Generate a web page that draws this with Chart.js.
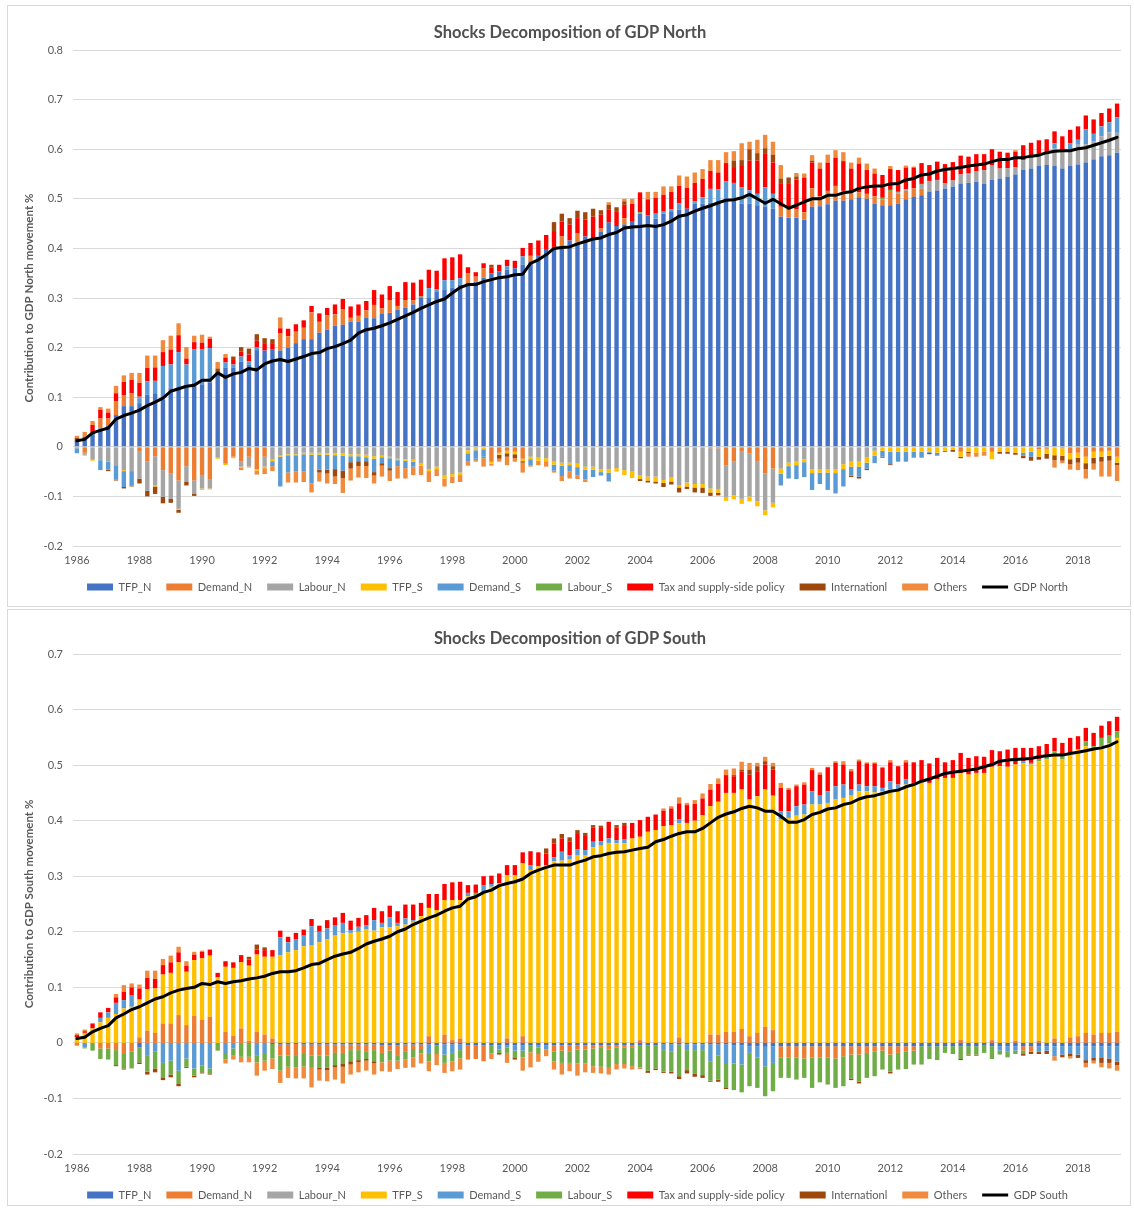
<!DOCTYPE html>
<html><head><meta charset="utf-8">
<script src="https://cdn.jsdelivr.net/npm/chart.js"></script>
<style>
html,body{margin:0;padding:0;background:#fff;overflow:hidden;width:1134px;height:1209px;}
.box{position:absolute;left:7px;width:1124px;border:1px solid #d9d9d9;box-sizing:border-box;}
#b1{top:5px;height:602px;}
#b2{top:609px;height:597px;}
.cw{position:absolute;left:8px;width:1122px;}
#w1{top:6px;height:600px;}
#w2{top:610px;height:604px;}
.ttl{position:absolute;left:0;width:1140px;text-align:center;font-family:Lato,"Open Sans",Arial,sans-serif;font-weight:bold;font-size:16.5px;line-height:20px;color:#505050;white-space:nowrap;}
#t1{top:22px;}
#t2{top:628px;}
</style></head><body>
<div class="box" id="b1"></div><div class="box" id="b2"></div>
<div class="cw" id="w1"><canvas id="c1"></canvas></div>
<div class="cw" id="w2"><canvas id="c2"></canvas></div>
<div class="ttl" id="t1">Shocks Decomposition of GDP North</div>
<div class="ttl" id="t2">Shocks Decomposition of GDP South</div>
<script>
// ---------- categories ----------
const firstYear = 1986, nQuarters = 134; // 1986Q1 .. 2019Q2
const quarters = [];
for (let k = 0; k < nQuarters; k++) quarters.push((firstYear + Math.floor(k / 4)) + 'Q' + (k % 4 + 1));
const yearTicks = ['1986','1988','1990','1992','1994','1996','1998','2000','2002','2004','2006','2008','2010','2012','2014','2016','2018'];

const seriesNames = ['TFP_N','Demand_N','Labour_N','TFP_S','Demand_S','Labour_S','Tax and supply-side policy','Internationl','Others'];

// ---------- GDP North ----------
const northTFP_N = [.010,.015,.026,.037,.043,.064,.082,.082,
 .088,.105,.108,.095,.118,.120,.125,.130,
 .126,.130,.146,.160,.160,.172,.166,.195,
 .194,.197,.194,.200,.209,.217,.217,.230,
 .236,.244,.246,.252,.252,.260,.259,.268,
 .270,.276,.280,.287,.300,.300,.313,.316,
 .321,.327,.330,.333,.341,.350,.354,.357,
 .360,.367,.374,.385,.397,.403,.404,.416,
 .412,.424,.420,.434,.452,.445,.448,.455,
 .470,.467,.460,.470,.475,.478,.480,.490,
 .490,.492,.495,.497,.500,.490,.490,.487,
 .484,.480,.464,.462,.462,.458,.484,.485,
 .489,.496,.496,.499,.503,.500,.490,.487,
 .487,.490,.499,.504,.507,.514,.516,.521,
 .525,.531,.532,.534,.531,.538,.541,.544,
 .549,.558,.561,.566,.568,.566,.561,.566,
 .569,.573,.579,.586,.588,.593];
const northDemand_N = [0,-.012,0,.020,.014,.028,.022,.026,
 -.010,-.029,-.019,-.047,-.053,-.068,-.039,-.068,
 -.057,-.065,0,-.034,-.020,-.030,-.020,-.045,
 -.020,0,.035,.023,.023,.023,.054,.022,
 .029,.023,.031,.008,.012,.015,.027,.011,
 .026,.008,.016,.008,0,0,0,0,
 0,0,.020,.010,.019,-.030,-.012,-.008,
 -.010,-.024,.011,0,0,0,.020,0,
 .019,0,0,.006,0,0,.013,0,
 0,0,0,0,0,0,0,0,
 0,-.003,-.003,-.037,-.030,-.010,-.013,-.030,
 -.054,-.044,.020,.018,.017,.015,.037,.020,
 .027,.030,.020,.015,.010,.010,.015,.012,
 .027,.020,.017,.017,.013,0,0,0,
 0,-.010,0,0,0,-.010,0,0,
 0,0,0,-.005,-.004,0,-.003,-.013,
 -.012,-.020,-.010,-.010,-.008,-.020];
const northLabour_N = [-.003,-.004,-.026,-.027,-.030,-.037,-.047,-.049,
 -.054,-.060,-.059,-.054,-.052,-.057,-.032,-.026,
 -.027,-.019,-.022,0,0,-.010,-.020,0,
 -.020,-.026,-.018,-.015,-.015,-.012,-.012,-.012,
 -.013,-.013,-.013,-.015,-.015,-.016,-.019,-.018,
 -.020,-.024,-.025,-.026,-.034,-.045,-.040,-.058,
 -.055,-.052,-.007,-.003,0,0,0,0,
 0,0,-.020,-.022,-.023,-.030,-.032,-.032,
 -.034,-.040,-.040,-.045,-.045,-.043,-.047,-.050,
 -.057,-.060,-.060,-.067,-.062,-.077,-.072,-.075,
 -.075,-.081,-.082,-.064,-.068,-.095,-.087,-.080,
 -.074,-.069,-.044,-.032,-.030,-.025,-.045,-.045,
 -.045,-.045,-.035,-.030,-.030,-.022,-.008,0,
 0,.004,.003,0,.010,.022,.022,.010,
 .012,.018,.017,.022,.027,.030,.020,.018,
 .015,.020,.025,.024,.024,.035,.035,.034,
 .040,.037,.037,.040,.046,.040];
const northTFP_S = [0,-.002,-.002,0,0,0,-.002,0,
 0,0,-.002,0,0,-.002,0,0,
 -.003,-.002,-.002,-.003,-.003,-.002,-.002,-.003,
 -.003,-.003,-.002,-.002,-.002,-.003,-.004,-.004,
 -.003,-.004,-.005,-.004,-.004,-.005,-.005,-.003,
 -.003,-.003,-.003,-.004,-.004,-.004,-.005,-.006,
 -.005,-.005,-.006,-.004,-.005,-.004,-.004,-.005,
 -.005,-.005,-.005,-.006,-.006,-.006,-.006,-.005,
 -.007,-.006,-.006,-.006,-.007,-.007,-.010,-.013,
 -.008,-.008,-.010,-.006,-.008,-.005,-.008,-.007,
 -.007,-.008,-.008,-.008,-.008,-.010,-.010,-.010,
 -.010,-.009,-.010,-.007,-.007,-.006,-.008,-.007,
 -.007,-.008,-.010,-.010,-.010,-.010,-.010,-.008,
 -.010,-.010,-.010,-.010,-.010,-.010,-.012,-.008,
 -.006,-.010,-.010,-.012,-.010,-.015,-.010,-.010,
 -.012,-.012,-.010,-.015,-.010,-.017,-.015,-.012,
 -.010,-.013,-.012,-.010,-.010,-.012];
const northDemand_S = [-.010,0,0,-.020,-.016,-.029,-.032,-.029,
 .010,.027,.025,.068,.048,.071,.041,.067,
 .070,.069,0,.010,.006,.010,.006,.005,
 0,-.010,-.060,-.035,-.033,-.034,-.058,-.030,
 -.030,-.028,-.030,-.012,-.010,-.008,-.027,-.012,
 -.020,-.012,-.015,-.010,0,.020,.004,.020,
 .015,.013,-.017,-.017,-.015,0,0,.007,
 0,.017,-.012,0,0,-.012,-.021,-.013,
 -.017,-.020,-.015,-.007,-.018,0,0,0,
 0,0,.010,.004,.004,.013,0,.005,
 .013,.028,.024,.038,.032,.033,.027,.023,
 .039,.030,-.024,-.025,-.028,-.030,-.034,-.023,
 -.035,-.041,-.035,-.018,-.020,-.012,-.015,-.012,
 -.025,-.020,-.020,-.012,-.012,-.002,-.006,0,
 0,0,.003,0,0,0,0,0,
 0,-.006,-.010,0,0,.011,0,.012,
 .010,.030,.015,.020,.020,.031];
const northLabour_S = [0,0,0,0,0,0,0,0,
 .003,0,0,0,0,0,0,0,
 0,0,0,0,0,0,0,0,
 0,0,0,0,0,0,0,0,
 0,0,0,0,0,0,0,0,
 0,0,0,0,.003,0,0,0,
 0,0,0,-.003,-.003,0,0,0,
 0,0,0,0,0,0,0,0,
 0,0,0,0,0,0,0,0,
 .003,0,0,0,0,0,0,0,
 0,0,0,0,0,0,0,0,
 0,0,0,.003,0,0,0,0,
 0,0,0,0,0,0,0,.003,
 .004,0,0,0,0,0,0,0,
 0,0,0,0,0,0,0,0,
 0,0,0,0,0,0,0,0,
 0,0,0,0,0,0];
const northTax = [0,0,.018,.018,.012,.016,.027,.027,
 .028,.027,.027,.028,.030,.034,.012,.014,
 .014,.019,0,.010,.009,.010,.014,.014,
 .015,.012,.010,.015,.015,.015,.013,.017,
 .015,.020,.021,.023,.023,.019,.030,.028,
 .028,.028,.036,.036,.034,.037,.038,.044,
 .046,.048,.012,.009,.010,.011,.013,.013,
 .015,.017,.026,.031,.030,.032,.030,.032,
 .030,.034,.044,.028,.027,.030,.027,.035,
 .040,.032,.032,.034,.035,.035,.042,.037,
 .037,.036,.034,.037,.032,.045,.060,.067,
 .069,.063,.046,.047,.060,.070,.052,.056,
 .057,.057,.060,.047,.058,.048,.046,.046,
 .042,.044,.044,.042,.042,.032,.037,.039,
 .037,.038,.033,.034,.032,.032,.034,.031,
 .031,.030,.027,.028,.028,.024,.030,.027,
 .027,.028,.029,.027,.028,.028];
const northIntl = [.008,.005,0,0,-.003,-.002,-.003,-.002,
 -.010,-.011,-.015,-.013,-.008,-.006,-.007,-.005,
 0,0,.012,0,.007,.009,.012,.013,
 .010,.008,0,0,0,0,0,-.006,
 -.008,-.015,-.015,-.013,-.010,-.010,-.007,-.005,
 -.005,0,0,0,0,0,0,0,
 0,0,0,0,0,.006,-.008,-.007,
 -.008,-.003,0,0,0,.018,.016,.013,
 .015,.015,.016,.009,.009,.008,.007,0,
 -.004,-.004,-.004,-.008,-.006,-.010,-.005,-.010,
 -.011,-.007,-.005,0,.013,.010,.023,.015,
 .010,.016,.011,.013,.006,0,.004,0,
 0,0,0,-.003,-.004,-.003,0,-.002,
 -.002,0,0,0,0,-.003,0,-.002,
 -.004,-.003,-.003,0,0,0,-.004,-.004,
 -.004,-.005,-.008,-.006,-.010,-.010,-.010,-.010,
 -.010,-.012,-.012,-.010,-.010,-.005];
const northOthers = [.004,.010,.008,.005,.008,.015,.013,.014,
 .020,.025,.024,.024,.028,.024,.023,.013,
 .016,.004,.013,.007,0,-.005,0,-.008,
 -.012,-.010,.022,-.020,-.022,-.022,-.018,-.018,
 -.020,-.015,-.030,-.024,-.023,-.024,-.016,-.022,
 -.021,-.025,-.021,-.017,-.019,-.022,-.014,-.016,
 -.013,-.014,-.008,-.003,-.017,-.004,-.006,-.017,
 -.007,-.020,-.003,-.009,-.011,-.004,-.010,-.014,
 -.007,-.005,0,0,.005,0,.005,.010,
 0,.015,.012,.017,.011,.021,.023,.021,
 .020,.022,.025,.022,.019,.034,.015,.027,
 .027,.026,.027,0,.007,.008,.011,.012,
 .016,.015,.018,.012,.012,.013,.010,0,
 .006,0,.004,.002,0,0,0,0,
 0,0,-.007,-.008,-.008,0,0,0,
 .003,0,0,0,0,-.015,-.005,-.011,
 -.015,-.019,-.012,-.030,-.032,-.032];
const gdpNorth = [.012,.015,.028,.033,.038,.056,.063,.068,
 .074,.083,.090,.098,.112,.117,.122,.124,
 .134,.134,.149,.140,.147,.150,.158,.155,
 .167,.173,.176,.172,.177,.182,.188,.190,
 .198,.202,.208,.215,.229,.236,.239,.244,
 .250,.257,.264,.271,.279,.286,.293,.298,
 .310,.321,.327,.327,.333,.337,.341,.343,
 .347,.348,.370,.377,.387,.400,.402,.403,
 .409,.414,.419,.421,.428,.432,.441,.443,
 .444,.446,.444,.448,.455,.465,.468,.475,
 .481,.486,.492,.497,.498,.502,.509,.500,
 .491,.499,.490,.481,.487,.494,.500,.500,
 .507,.507,.512,.514,.521,.524,.526,.526,
 .530,.531,.538,.541,.548,.550,.556,.559,
 .561,.563,.566,.568,.570,.575,.579,.579,
 .583,.583,.586,.588,.593,.596,.597,.597,
 .601,.603,.608,.613,.618,.624];

// ---------- GDP South ----------
const southTFP_N = [0,0,0,0,0,0,0,0,
 -.008,0,0,0,0,0,0,0,
 0,0,0,0,0,0,0,0,
 0,-.002,-.003,-.003,-.002,-.003,-.003,-.003,
 -.003,-.003,-.003,-.003,-.003,-.003,-.003,-.004,
 -.004,-.004,-.003,-.003,-.003,-.003,-.004,-.003,
 -.003,-.003,-.004,-.004,-.004,-.004,-.004,-.004,
 -.004,-.004,-.004,-.004,-.004,-.004,-.004,-.004,
 -.004,-.004,-.004,-.004,-.004,-.004,-.004,-.004,
 -.004,-.004,-.004,-.003,-.003,-.003,-.003,-.003,
 -.003,-.003,-.003,-.003,-.004,-.004,-.006,-.006,
 -.007,-.006,-.006,-.006,-.006,-.006,-.006,-.006,
 -.006,-.006,-.006,-.006,-.006,-.006,-.006,-.006,
 -.006,-.006,-.006,-.006,-.006,-.006,-.006,-.006,
 -.006,-.006,-.006,-.006,-.005,-.006,-.006,-.006,
 -.006,-.006,-.006,-.006,-.006,-.006,-.006,-.006,
 -.006,-.006,-.006,-.006,-.006,-.006];
const southDemand_N = [-.005,0,0,-.010,-.010,-.013,-.020,-.016,
 .010,.022,.018,.035,.035,.050,.032,.049,
 .042,.047,0,.020,.013,.026,.004,.020,
 .015,.008,-.020,-.020,-.020,-.017,-.020,-.020,
 -.020,-.015,-.015,-.010,-.010,-.012,-.010,-.014,
 -.010,-.018,-.012,-.008,-.008,.012,0,.015,
 .005,.008,-.026,-.025,-.029,0,0,.008,
 0,.012,0,0,0,-.012,-.010,-.012,
 -.008,-.008,-.006,-.005,-.008,-.004,-.004,-.005,
 .005,0,0,0,0,.010,0,0,
 0,.015,.015,.020,.020,.025,.012,.018,
 .029,.023,-.020,-.020,-.020,-.022,-.020,-.020,
 -.020,-.022,-.018,-.015,-.015,-.012,-.010,-.008,
 -.015,-.012,-.010,-.008,0,0,0,0,
 0,.006,0,0,0,.005,0,0,
 .004,-.008,-.010,.004,0,.008,0,.010,
 .012,.018,.015,.018,.018,.020];
const southLabour_N = [0,0,0,0,0,0,0,0,
 0,0,0,0,0,0,0,0,
 0,0,0,0,0,0,0,0,
 0,0,0,0,0,0,0,0,
 0,0,0,0,0,0,0,0,
 0,0,0,0,0,0,0,0,
 0,0,0,0,0,0,0,0,
 0,0,0,0,0,0,0,0,
 0,0,0,0,0,0,0,0,
 0,0,0,0,0,0,0,0,
 0,0,0,0,0,0,0,0,
 0,0,0,0,0,0,0,0,
 0,0,0,0,0,0,0,0,
 0,0,0,0,0,0,0,0,
 0,0,0,0,0,0,0,0,
 0,0,0,0,0,0,0,0,
 0,0,0,0,0,0];
const southTFP_S = [.010,.018,.026,.037,.045,.052,.062,.065,
 .068,.075,.080,.088,.091,.095,.096,.100,
 .110,.110,.118,.117,.122,.119,.135,.139,
 .140,.147,.158,.163,.167,.174,.175,.181,
 .186,.193,.197,.198,.200,.204,.202,.208,
 .208,.210,.213,.218,.228,.231,.239,.242,
 .252,.249,.264,.264,.269,.281,.287,.294,
 .302,.311,.311,.318,.320,.327,.328,.330,
 .338,.338,.352,.355,.360,.359,.359,.368,
 .366,.380,.383,.390,.392,.385,.396,.400,
 .410,.411,.419,.430,.430,.431,.426,.426,
 .427,.422,.402,.405,.409,.411,.429,.429,
 .432,.438,.441,.445,.453,.453,.451,.453,
 .456,.456,.465,.468,.469,.468,.475,.477,
 .477,.480,.483,.486,.486,.492,.498,.497,
 .497,.503,.501,.503,.510,.511,.510,.512,
 .516,.516,.513,.516,.521,.529];
const southDemand_S = [0,-.008,0,.008,.010,.020,.015,.020,
 0,-.022,-.016,-.036,-.032,-.050,-.028,-.046,
 -.041,-.046,0,-.020,-.010,0,0,-.022,
 -.020,0,.032,.018,.020,.019,.035,.019,
 .020,.018,.019,.005,.009,.008,.019,.008,
 .018,.006,.011,.003,0,-.015,0,-.018,
 -.015,-.010,.006,0,.015,.005,-.008,-.004,
 -.010,-.010,.009,-.004,-.008,.007,.016,.008,
 .010,.009,.010,.008,.008,.006,.008,0,
 0,0,0,-.010,-.012,.007,-.010,-.010,
 -.010,-.030,-.020,-.035,-.033,-.035,-.012,-.020,
 -.035,-.030,.015,.012,.017,.018,.024,.016,
 .021,.024,.024,.012,.012,.009,.011,.006,
 .015,.009,.009,0,0,0,0,0,
 0,0,0,0,0,0,-.008,-.010,
 -.008,.004,.003,-.010,-.008,-.018,-.015,-.014,
 -.015,-.025,-.020,-.020,-.022,-.028];
const southLabour_S = [0,-.002,-.014,-.019,-.020,-.027,-.026,-.030,
 -.027,-.030,-.030,-.026,-.025,-.024,-.015,-.013,
 -.012,-.010,-.014,-.010,-.012,-.025,-.025,-.013,
 -.012,-.026,-.027,-.020,-.022,-.022,-.022,-.022,
 -.022,-.022,-.020,-.020,-.018,-.014,-.020,-.017,
 -.018,-.010,-.015,-.015,-.008,-.015,-.016,-.015,
 -.015,-.015,0,.006,0,-.015,-.006,-.010,
 -.012,-.012,-.013,-.012,0,-.017,-.022,-.020,
 -.025,-.025,-.032,-.034,-.033,-.030,-.030,-.033,
 -.040,-.046,-.042,-.039,-.037,-.057,-.036,-.042,
 -.045,-.035,-.043,-.042,-.048,-.050,-.060,-.055,
 -.054,-.051,-.037,-.037,-.040,-.035,-.055,-.045,
 -.049,-.053,-.054,-.043,-.049,-.045,-.044,-.034,
 -.031,-.030,-.031,-.025,-.033,-.023,-.025,-.012,
 -.014,-.023,-.015,-.015,-.013,-.023,-.007,-.010,
 -.006,-.006,0,.003,.006,.006,.006,0,
 0,.009,.006,.015,.014,.012];
const southTax = [.004,.003,.009,.010,.008,.010,.015,.015,
 .020,.020,.017,.017,.019,.018,.011,.010,
 .012,.011,.008,.010,.010,.013,.011,.009,
 .012,.012,.012,.010,.011,.011,.013,.011,
 .015,.015,.018,.017,.016,.018,.022,.021,
 .021,.021,.025,.028,.024,.025,.029,.029,
 .032,.033,.014,.015,.016,.015,.018,.018,
 .018,.020,.025,.025,.021,.025,.024,.024,
 .028,.027,.026,.024,.030,.023,.025,.028,
 .030,.027,.028,.028,.030,.029,.032,.030,
 .030,.030,.032,.032,.030,.032,.045,.045,
 .045,.047,.042,.039,.036,.036,.038,.038,
 .043,.042,.036,.032,.042,.041,.041,.036,
 .034,.033,.031,.037,.040,.035,.038,.028,
 .032,.036,.030,.030,.029,.030,.027,.031,
 .030,.024,.027,.024,.022,.024,.024,.027,
 .024,.024,.024,.022,.026,.026];
const southIntl = [0,0,0,0,0,-.002,-.002,0,
 -.003,-.005,-.007,-.005,-.005,-.004,-.002,-.003,
 -.002,-.001,0,0,0,0,.005,.009,
 .005,0,0,0,0,0,0,-.003,
 -.004,-.004,-.005,-.006,-.004,-.003,-.004,0,
 0,0,0,0,0,0,0,0,
 0,0,0,0,0,0,-.003,0,
 -.004,0,0,0,.009,.009,.008,.008,
 .007,.004,.004,.004,0,.004,.004,0,
 0,-.004,-.003,-.002,-.003,-.005,-.006,-.006,
 -.005,-.002,-.004,-.003,.002,.004,.009,.009,
 .006,.006,0,0,0,0,0,0,
 0,0,0,-.003,-.003,0,0,0,
 -.003,0,0,0,0,0,0,0,
 0,-.002,-.002,-.002,0,0,0,0,
 0,-.003,-.004,-.004,-.006,0,-.005,-.004,
 -.006,-.005,-.006,-.010,-.008,-.006];
const southOthers = [.003,.003,0,0,0,.006,.012,.007,
 .007,.013,.015,.011,.012,.010,.008,.005,
 .002,0,0,-.007,-.008,-.010,-.010,-.024,
 -.018,-.019,-.022,-.020,-.020,-.022,-.035,-.020,
 -.020,-.022,-.030,-.018,-.018,-.018,-.020,-.016,
 -.020,-.015,-.015,-.018,-.018,-.018,-.020,-.018,
 -.018,-.020,0,0,0,-.010,0,-.018,
 0,-.024,-.027,-.014,-.012,-.015,-.021,-.015,
 -.022,-.016,-.012,-.012,-.012,-.010,-.008,-.006,
 -.003,0,0,.004,.004,.011,.004,.007,
 .009,.010,.010,.010,.012,.014,.012,.006,
 .008,.006,.009,.003,.003,.004,.004,.004,
 .001,.003,.006,.004,.003,.002,.002,.002,
 .004,0,.004,0,0,0,0,0,
 0,0,0,0,0,0,0,0,
 0,0,0,0,0,-.008,0,-.004,
 0,-.008,-.005,-.008,-.010,-.010];
const gdpSouth = [.008,.010,.020,.026,.031,.045,.052,.060,
 .065,.072,.079,.083,.090,.095,.098,.100,
 .107,.105,.110,.107,.110,.112,.115,.117,
 .120,.125,.128,.128,.130,.135,.141,.143,
 .150,.156,.160,.163,.170,.178,.183,.187,
 .192,.200,.205,.213,.219,.225,.230,.237,
 .243,.246,.259,.263,.271,.275,.283,.287,
 .290,.295,.305,.311,.316,.320,.320,.320,
 .325,.329,.335,.337,.341,.343,.344,.347,
 .350,.352,.362,.366,.372,.377,.380,.380,
 .386,.396,.406,.412,.416,.422,.426,.423,
 .417,.417,.408,.397,.397,.402,.411,.415,
 .421,.423,.429,.432,.439,.443,.445,.449,
 .453,.455,.461,.465,.471,.475,.480,.485,
 .487,.489,.491,.493,.497,.501,.507,.509,
 .510,.511,.512,.515,.517,.518,.518,.521,
 .523,.526,.529,.531,.535,.542];

// ---------- styling ----------
const FONT = 'Lato, "Open Sans", Arial, sans-serif';
const GREY = '#595959';
const seriesColors = ['#4472C4','#ED7D31','#A5A5A5','#FFC000','#5B9BD5','#70AD47','#FF0000','#9E480E','#F08A3C'];

function build(canvasId, yTitle, lineName, series, line, yMax) {
  const datasets = series.map((d, i) => ({
    type: 'bar', label: seriesNames[i], data: d, backgroundColor: seriesColors[i],
    borderWidth: 0, order: 1, stack: 'contrib', barPercentage: 0.56, categoryPercentage: 1
  }));
  datasets.push({
    type: 'line', label: lineName, data: line, borderColor: '#000000', backgroundColor: '#000000',
    borderWidth: 3, pointRadius: 0, pointHoverRadius: 0, tension: 0, order: 0, stack: 'gdp', fill: false,
    borderJoinStyle: 'round', borderCapStyle: 'round'
  });
  new Chart(document.getElementById(canvasId), {
    data: { labels: quarters, datasets },
    options: {
      responsive: true, maintainAspectRatio: false, animation: false,
      layout: { padding: { left: 26, right: 9, top: 44, bottom: 3.5 } },
      plugins: {
        title: { display: false },
        legend: {
          position: 'bottom',
          labels: {
            color: GREY, font: { family: FONT, size: 11 }, usePointStyle: true, pointStyleWidth: 26, boxHeight: 7, padding: 15,
            sort: (a, b) => a.datasetIndex - b.datasetIndex,
            generateLabels(chart) {
              const items = Chart.defaults.plugins.legend.labels.generateLabels(chart);
              items.forEach(it => {
                const ds = chart.data.datasets[it.datasetIndex];
                if (ds.type === 'line') { it.pointStyle = 'line'; it.lineWidth = 3; it.strokeStyle = '#000000'; }
                else { it.pointStyle = 'rect'; it.lineWidth = 0; }
              });
              return items;
            }
          }
        },
        tooltip: { enabled: false }
      },
      scales: {
        x: {
          stacked: true, grid: { display: false, drawTicks: false, tickLength: 0 }, border: { display: false },
          ticks: { autoSkip: false, maxRotation: 0, minRotation: 0, padding: 7.5, color: GREY, font: { family: FONT, size: 11 },
            callback: (v, i) => (i % 8 === 0 ? yearTicks[i / 8] : null) },
          afterFit(s) { s.height = 20.5; }
        },
        y: {
          stacked: true, min: -0.2, max: yMax,
          grid: { color: '#D9D9D9', drawTicks: false, lineWidth: 1 }, border: { display: false },
          ticks: { stepSize: 0.1, padding: 10, color: GREY, font: { family: FONT, size: 11 },
            callback: v => { const r = Math.round(v * 10) / 10; return r === 0 ? '0' : String(r); } },
          title: { display: true, text: yTitle, color: GREY, font: { family: FONT, size: 11.5, weight: 'bold' }, padding: { top: -12, bottom: 0 } },
          afterFit(s) { s.width = 39; }
        }
      }
    }
  });
}

build('c1', 'Contribution to GDP North movement %', 'GDP North',
  [northTFP_N, northDemand_N, northLabour_N, northTFP_S, northDemand_S, northLabour_S, northTax, northIntl, northOthers],
  gdpNorth, 0.8);
build('c2', 'Contribution to GDP South movement %', 'GDP South',
  [southTFP_N, southDemand_N, southLabour_N, southTFP_S, southDemand_S, southLabour_S, southTax, southIntl, southOthers],
  gdpSouth, 0.7);
</script></body></html>
